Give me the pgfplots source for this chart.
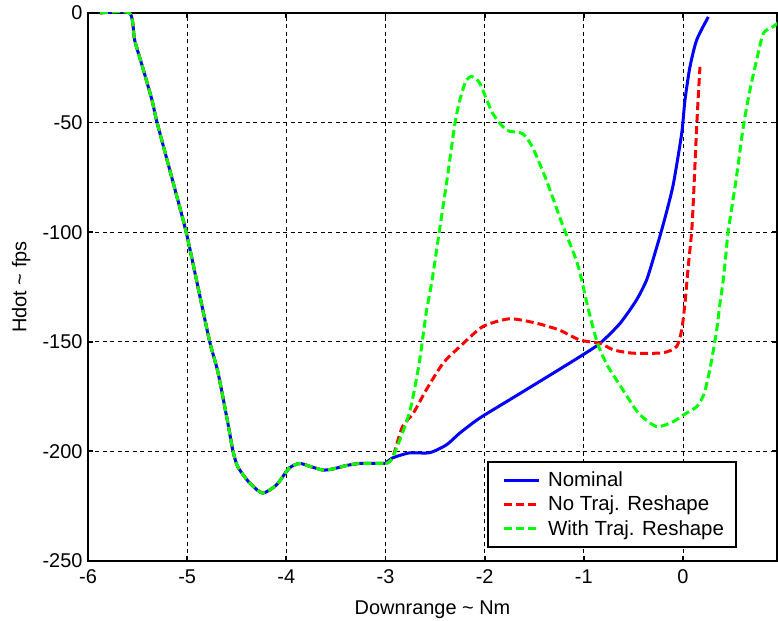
\documentclass[border=0pt]{standalone}
\usepackage{fontspec}
\setmainfont{Liberation Sans}
\usepackage{pgfplots}
\pgfplotsset{compat=1.18}
\pgfplotstableread{
x y
-5.88 0
-5.58 0
-5.53 -12.3
-5.45 -24.6
-5.355 -39.7
-5.305 -49.7
-5.14 -77.6
-5.01 -100
-4.87 -129.5
-4.77 -150.5
-4.69 -163.8
-4.59 -187
-4.54 -199.4
-4.49 -207
-4.37 -214.4
-4.24 -219
-4.1 -215.3
-3.97 -207.6
-3.865 -205.5
-3.75 -207
-3.63 -208.5
-3.53 -208
-3.4 -206.5
-3.26 -205.5
-3.0 -205.5
}\common
\pgfplotstableread{
x y
-3.0 -205.5
-2.93 -203
-2.76 -200.7
-2.556 -200.6
-2.385 -197
-2.25 -191.6
-2.05 -184.8
-1.75 -176.5
-1.42 -167.4
-1.04 -156.8
-0.837 -150.7
-0.635 -141.6
-0.47 -131
-0.367 -121.8
-0.283 -109.6
-0.215 -99
-0.15 -88
-0.095 -77.5
-0.013 -54.9
0.02 -39.7
0.07 -24.6
0.138 -12.3
0.255 -1.8
}\nominal
\pgfplotstableread{
x y
-3.0 -205.5
-2.93 -203
-2.83 -188.8
-2.72 -182.6
-2.59 -172
-2.42 -159.8
-2.25 -152.2
-2.02 -143.1
-1.75 -139.5
-1.48 -141.5
-1.25 -144.6
-1.04 -149.2
-0.837 -150.7
-0.70 -153.7
-0.50 -155.2
-0.20 -155
-0.065 -152.2
-0.013 -144.6
0.02 -132.4
0.05 -117
0.087 -100
0.105 -85
0.14 -50
0.171 -24.6
}\noreshape
\pgfplotstableread{
x y
-3.0 -205.5
-2.93 -203
-2.76 -182.6
-2.66 -159.7
-2.59 -136.9
-2.53 -121.8
-2.455 -99
-2.37 -73
-2.3 -50.4
-2.25 -39.7
-2.19 -31
-2.13 -29
-2.05 -32
-1.92 -45.7
-1.78 -53.4
-1.62 -55
-1.52 -61
-1.38 -76
-1.22 -96
-1.06 -115
-0.95 -136
-0.86 -151
-0.76 -161
-0.64 -169.5
-0.45 -182.5
-0.265 -188.7
-0.098 -186.4
0.003 -183.4
0.138 -179.6
0.21 -174
0.255 -166
0.289 -158.3
0.34 -144.6
0.373 -132.4
0.406 -121.8
0.44 -106.6
0.457 -99
0.535 -76.2
0.608 -51.9
0.675 -35.1
0.743 -21.4
0.81 -9.3
0.91 -6.2
1.0 -3
}\withreshape
\begin{document}
\begin{tikzpicture}
\begin{axis}[
  scale only axis,
  width=689bp, height=548bp,
  xmin=-6, xmax=0.948, ymin=-250, ymax=0,
  xtick={-6,-5,-4,-3,-2,-1,0},
  ytick={-250,-200,-150,-100,-50,0},
  tick align=inside,
  major tick length=5bp,
  tick style={black, line width=1.8bp},
  axis line style={black, line width=2.4bp},
  grid=major,
  major grid style={black, line width=0.9bp, dash pattern=on 4bp off 3.5bp},
  /pgf/number format/assume math mode=true,
  tick label style={font=\fontsize{20}{23}\selectfont},
  label style={font=\fontsize{20}{23}\selectfont},
  xlabel={Downrange \textasciitilde\ Nm},
  ylabel={Hdot \textasciitilde\ fps},
  xlabel style={at={(axis description cs:0.5,0)}, anchor=north, yshift=-36bp},
  ylabel style={at={(axis description cs:0,0.5)}, anchor=south, yshift=54bp},
  xticklabel style={yshift=-5bp},
  yticklabel style={xshift=-2bp},
  legend style={at={(0.942,0.024)}, anchor=south east, draw=black, line width=2.2bp,
    font=\fontsize{20.5}{24}\selectfont, inner xsep=10bp, inner ysep=6bp,
    nodes={inner ysep=4bp}},
  legend cell align=left,
  legend image code/.code={\path[draw=none] (-6bp,0bp) (42bp,0bp); \draw[#1] (0bp,0bp) -- (35bp,0bp);},
  clip=true,
]
\addplot[blue, line width=3bp, smooth, tension=0.4, forget plot] table {\common};
\addplot[blue, line width=3bp, smooth, tension=0.4] table {\nominal};
\addplot[red, line width=3bp, dash pattern=on 8bp off 4bp, smooth, tension=0.4, forget plot] table {\common};
\addplot[red, line width=3bp, dash pattern=on 8bp off 4bp, smooth, tension=0.4] table {\noreshape};
\addplot[green, line width=3bp, dash pattern=on 8bp off 4bp, smooth, tension=0.4, forget plot] table {\common};
\addplot[green, line width=3bp, dash pattern=on 8bp off 4bp, smooth, tension=0.4] table {\withreshape};
\legend{Nominal, No Traj. Reshape, With Traj. Reshape}
\end{axis}
\pgfresetboundingbox
\path[use as bounding box] (current axis.south west) ++(-88bp,-60bp) rectangle ([shift={(1bp,13bp)}]current axis.north east);
\end{tikzpicture}
\end{document}
